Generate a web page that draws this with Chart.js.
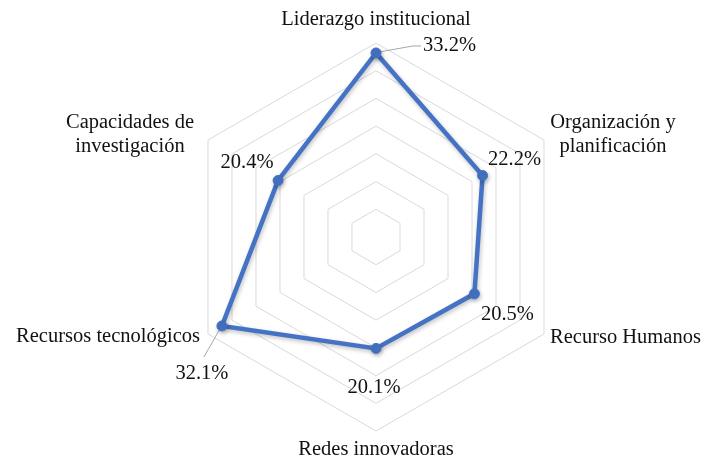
<!DOCTYPE html>
<html><head><meta charset="utf-8">
<script src="https://cdn.jsdelivr.net/npm/chart.js@4/dist/chart.umd.min.js"></script>
<style>html,body{margin:0;padding:0;background:#fff}#wrap{width:703px;height:459px}</style>
</head><body><div id="wrap"><canvas id="c" width="703" height="459"></canvas></div>
<script>
const categories = [["Liderazgo institucional"],["Organización y","planificación"],["Recurso Humanos"],["Redes innovadoras"],["Recursos tecnológicos"],["Capacidades de","investigación"]];
const values = [33.2, 22.2, 20.5, 20.1, 32.1, 20.4];
const valueLabels = ["33.2%","22.2%","20.5%","20.1%","32.1%","20.4%"];
const scaleMax = 35, scaleStep = 5;

const FONT = '20.5px "Liberation Serif", "Times New Roman", serif';
// label placement relative to outer vertex: [dx, dy(first line), align]
const catPlace = [[0,-23,'center'],[69,-17,'center'],[6,4,'left'],[0,19,'center'],[-8,3,'right'],[-78,-17,'center']];
// value label placement relative to the point: [dx, dy, align]
const valPlace = [[47,-7,'left'],[32,-16,'center'],[33,21,'center'],[-2,39,'center'],[-20,48,'center'],[-31,-18,'center']];

const labelsPlugin = {
  id:'labelsPlugin',
  beforeDatasetsDraw(chart){
    const ctx = chart.ctx, s = chart.scales.r;
    ctx.save();
    ctx.strokeStyle = '#a6a6a6'; ctx.lineWidth = 1;
    const p0 = s.getPointPositionForValue(0, values[0]);
    ctx.beginPath(); ctx.moveTo(p0.x+3,p0.y-1); ctx.lineTo(p0.x+37,p0.y-7); ctx.lineTo(p0.x+45,p0.y-7); ctx.stroke();
    const p4 = s.getPointPositionForValue(4, values[4]);
    ctx.beginPath(); ctx.moveTo(p4.x-2,p4.y+3); ctx.lineTo(p4.x-18,p4.y+31); ctx.stroke();
    ctx.restore();
  },
  afterDatasetsDraw(chart){
    const ctx = chart.ctx, s = chart.scales.r;
    ctx.save();
    ctx.font = FONT; ctx.fillStyle = '#111'; ctx.textBaseline = 'middle';
    categories.forEach((lines,i)=>{
      const p = s.getPointPosition(i, s.drawingArea);
      const [dx,dy,al] = catPlace[i];
      ctx.textAlign = al;
      lines.forEach((t,j)=>ctx.fillText(t, p.x+dx, p.y+dy+j*24));
    });
    valueLabels.forEach((t,i)=>{
      const p = s.getPointPositionForValue(i, values[i]);
      const [dx,dy,al] = valPlace[i];
      ctx.textAlign = al;
      ctx.fillText(t, p.x+dx, p.y+dy);
    });
    ctx.restore();
  }
};
const shadowPlugin = {
  id:'shadowPlugin',
  beforeDatasetDraw(chart){ const c=chart.ctx; c.save(); c.shadowColor='rgba(0,0,0,0.25)'; c.shadowBlur=4; c.shadowOffsetX=1; c.shadowOffsetY=2; },
  afterDatasetDraw(chart){ chart.ctx.restore(); }
};

new Chart(document.getElementById('c'), {
  type:'radar',
  data:{ labels: categories.map(l=>l.join(' ')), datasets:[{
    data: values, borderColor:'#4472C4', backgroundColor:'rgba(0,0,0,0)', fill:false,
    borderWidth:4.5, pointRadius:5, pointBackgroundColor:'#4472C4', pointBorderColor:'#4472C4', pointBorderWidth:1, tension:0
  }]},
  options:{
    responsive:false, animation:false, devicePixelRatio:1,
    layout:{padding:{left:182, top:43, right:133, bottom:28}},
    plugins:{legend:{display:false}, tooltip:{enabled:false}},
    scales:{ r:{ min:0, max:scaleMax, beginAtZero:true,
      ticks:{display:false, stepSize:scaleStep},
      grid:{color:'#d9d9d9', lineWidth:1},
      angleLines:{display:false},
      pointLabels:{display:false}
    }}
  },
  plugins:[shadowPlugin, labelsPlugin]
});
</script></body></html>
